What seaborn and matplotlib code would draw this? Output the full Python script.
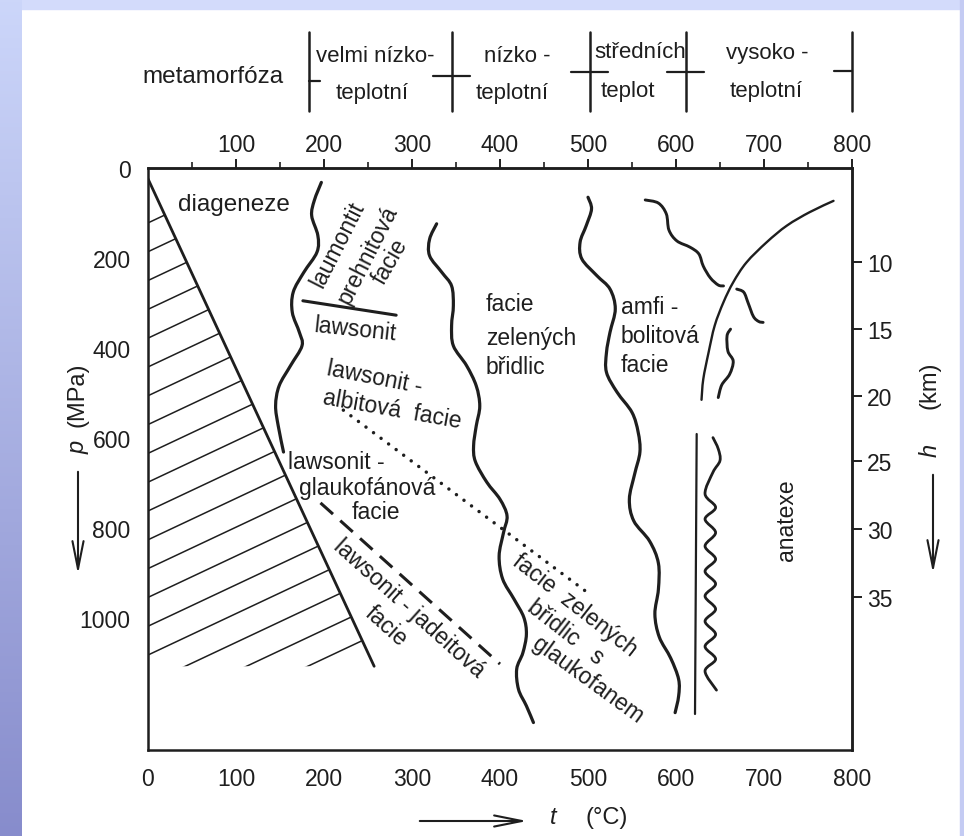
import numpy as np
import matplotlib
matplotlib.use("Agg")
import matplotlib.pyplot as plt
import seaborn as sns
from matplotlib.path import Path
from matplotlib.patches import PathPatch, Polygon, Rectangle, FancyArrowPatch
from matplotlib.lines import Line2D
from matplotlib.collections import LineCollection
from matplotlib.ticker import FixedLocator
from matplotlib.transforms import blended_transform_factory

# ---- values: t in degC, p in MPa ----
geotherm_t = [0, 257]
geotherm_p = [24, 1107]

hatch_p0 = [122, 186, 250, 314, 378, 442, 506, 570, 634, 698, 762, 826,
            890, 954, 1018, 1082, 1146, 1210, 1274]
hatch_slope = 0.92
hatch_floor = 1107

# diageneze / laumontit boundary
a_t = [197, 189, 186, 193, 192, 177, 165, 164, 172, 175, 162, 149, 145, 148, 154]
a_p = [32, 72, 106, 150, 187, 232, 276, 321, 365, 395, 439, 484, 528, 573, 631]

# greenschist lower boundary
b_t = [328, 320, 320, 334, 345, 347, 345, 347, 362, 373, 377, 373, 370, 372,
       385, 400, 408, 404, 399, 403, 416, 427, 430, 426, 419, 421, 430, 438]
b_p = [124, 158, 195, 232, 262, 306, 350, 395, 439, 484, 529, 573, 617, 652,
       698, 736, 773, 810, 862, 913, 958, 998, 1036, 1077, 1113, 1158, 1195, 1232]

# greenschist / amphibolite boundary
c_t = [500, 504, 498, 491, 493, 510, 525, 531, 525, 521, 521, 533, 550, 557,
       559, 553, 547, 552, 570, 580, 580, 576, 581, 594, 603, 603, 599]
c_p = [65, 91, 128, 165, 202, 239, 269, 313, 365, 410, 454, 498, 543, 587,
       631, 680, 736, 784, 829, 878, 936, 991, 1042, 1089, 1136, 1173, 1210]

d_t = [565, 580, 589, 592, 601, 616, 626, 631, 639, 648, 654]
d_p = [71, 78, 102, 138, 162, 176, 191, 218, 244, 260, 262]

e_t = [669, 677, 682, 688, 694, 699]
e_p = [269, 276, 300, 330, 341, 343]

f_t = [662, 658, 659, 665, 661, 652, 648]
f_p = [358, 373, 407, 429, 458, 482, 510]

# granite solidus
g_t = [779, 752, 726, 703, 680, 665, 654, 644, 637, 631, 629]
g_p = [73, 98, 128, 165, 210, 254, 298, 350, 410, 469, 515]

# straight line beside anatexe
h_t = [623.5, 621.6]
h_p = [591, 1213]

# wavy line beside anatexe
i_t = [642, 648, 650, 642, 633, 645, 633, 645, 633, 645, 633, 645, 633, 645,
       633, 645, 633, 645, 633, 646]
i_p = [599, 624, 650, 676, 724, 754, 780, 810, 840, 869, 896, 924, 951, 980,
       1007, 1036, 1063, 1091, 1118, 1160]

# laumontit / lawsonit separator
sep_t = [176, 282]
sep_p = [295, 327]

dot_t = [222, 502]
dot_p = [538, 947]

dash_t = [196, 400]
dash_p = [744, 1102]

t_major = [0, 100, 200, 300, 400, 500, 600, 700, 800]
t_minor = [50, 150, 250, 350, 450, 550, 650, 750]
p_major = [0, 200, 400, 600, 800, 1000]
p_minor = [100, 300, 500, 700, 900, 1100]
depth_km = [10, 15, 20, 25, 30, 35]
depth_p = [209, 358, 507, 651, 802, 953]

zone_bounds = [183, 345, 502, 611, 800]

INK = "#1e1e1e"
TEXT_FONT = ["Liberation Sans", "DejaVu Sans"]
NUM_FONT = ["Liberation Sans Narrow", "Liberation Sans", "DejaVu Sans"]

sns.set_style("white")
plt.rcParams["font.family"] = TEXT_FONT
plt.rcParams["text.color"] = INK

W, H = 964, 837
fig = plt.figure(figsize=(W / 100, H / 100), dpi=100)
fig.patch.set_facecolor("white")


def fx(x):
    return x / W


def fy(y):
    return 1 - y / H


ax = fig.add_axes([fx(148), fy(751), fx(852) - fx(148), fy(169) - fy(751)])
ax.set_xlim(0, 800)
ax.set_ylim(1293, 0)
ax.set_facecolor("white")


def smooth(t, p):
    pts = np.column_stack([t, p]).astype(float)
    ext = np.vstack([pts[0], pts, pts[-1]])
    verts, codes = [pts[0]], [Path.MOVETO]
    for i in range(1, len(ext) - 2):
        p0, p1, p2, p3 = ext[i - 1], ext[i], ext[i + 1], ext[i + 2]
        verts += [p1 + (p2 - p0) / 6, p2 - (p3 - p1) / 6, p2]
        codes += [Path.CURVE4] * 3
    return Path(verts, codes)


for t, p, lw in [(a_t, a_p, 2.3), (b_t, b_p, 2.3), (c_t, c_p, 2.3),
                 (d_t, d_p, 2.1), (e_t, e_p, 2.1), (f_t, f_p, 2.1),
                 (g_t, g_p, 1.7), (i_t, i_p, 2.0)]:
    ax.add_patch(PathPatch(smooth(t, p), fill=False, ec=INK, lw=lw,
                           capstyle="round", joinstyle="round"))

# geotherm and hatching
sns.lineplot(x=geotherm_t, y=geotherm_p, ax=ax, color=INK, lw=2.0,
             sort=False, estimator=None)
tri = Polygon([(0, geotherm_p[0]), (geotherm_t[1], geotherm_p[1]),
               (0, hatch_floor)], closed=True, transform=ax.transData,
              fc="none", ec="none")
ax.add_patch(tri)
segs = [[(0, p0), (320, p0 - hatch_slope * 320)] for p0 in hatch_p0]
lc = LineCollection(segs, colors=INK, linewidths=1.1)
ax.add_collection(lc)
lc.set_clip_path(tri)

sns.lineplot(x=h_t, y=h_p, ax=ax, color=INK, lw=1.6, sort=False, estimator=None)
sns.lineplot(x=sep_t, y=sep_p, ax=ax, color=INK, lw=2.2, sort=False, estimator=None)
ax.plot(dot_t, dot_p, color=INK, lw=2.5, ls=(0, (0.01, 2.7)),
        dash_capstyle="round")
ax.plot(dash_t, dash_p, color=INK, lw=2.2, ls=(0, (5.5, 3.2)))

# axes frame and ticks
for s in ax.spines.values():
    s.set_linewidth(1.8)
    s.set_color(INK)
    s.set_visible(True)

ax.xaxis.set_major_locator(FixedLocator(t_major))
ax.xaxis.set_minor_locator(FixedLocator(t_minor))
ax.yaxis.set_major_locator(FixedLocator(p_major))
ax.yaxis.set_minor_locator(FixedLocator(p_minor))
ax.tick_params(axis="x", which="major", direction="out", length=6.5, width=1.4,
               color=INK, pad=5.5, labelsize=16.5, labelcolor=INK,
               labelfontfamily=NUM_FONT)
ax.tick_params(axis="x", which="minor", direction="out", length=4, width=1.2, color=INK)
ax.tick_params(axis="y", which="major", direction="out", length=8.5, width=1.4,
               color=INK, pad=4, labelsize=16.5, labelcolor=INK,
               labelfontfamily=NUM_FONT)
ax.tick_params(axis="y", which="minor", direction="out", length=4, width=1.2, color=INK)
ax.set_xlabel("")
ax.set_ylabel("")

top = ax.secondary_xaxis("top")
top.xaxis.set_major_locator(FixedLocator(t_major[1:]))
top.xaxis.set_minor_locator(FixedLocator(t_minor))
top.tick_params(axis="x", which="major", direction="out", length=6.5, width=1.4,
                color=INK, pad=2, labelsize=16.5, labelcolor=INK,
                labelfontfamily=NUM_FONT)
top.tick_params(axis="x", which="minor", direction="out", length=4, width=1.2, color=INK)
top.spines["top"].set_linewidth(1.8)

right = ax.secondary_yaxis("right")
right.set_yticks(depth_p, labels=[str(d) for d in depth_km])
right.tick_params(axis="y", direction="out", length=7, width=1.4, color=INK,
                  pad=4, labelsize=16.5, labelcolor=INK, labelfontfamily=NUM_FONT)
right.spines["right"].set_linewidth(1.8)

# region labels
lab = dict(fontsize=16.5, ha="center", va="center", rotation_mode="anchor", color=INK)
ax.text(34, 80, "diageneze", **{**lab, "ha": "left", "fontsize": 17.5})
ax.text(216, 169, "laumontit", rotation=63, **lab)
ax.text(250, 191, "prehnitová", rotation=63, **lab)
ax.text(275, 207, "facie", rotation=60, **lab)
ax.text(236, 358, "lawsonit", rotation=-6, **lab)
ax.text(258, 464, "lawsonit -", rotation=-11, **lab)
ax.text(277, 536, "albitová  facie", rotation=-10, **lab)
ax.text(214, 651, "lawsonit -", **lab)
ax.text(249, 709, "glaukofánová", **lab)
ax.text(259, 764, "facie", **lab)
for txt, p in [("facie", 302), ("zelených", 376), ("břidlic", 440)]:
    ax.text(384, p, txt, **{**lab, "ha": "left"})
for txt, p in [("amfi -", 307), ("bolitová", 373), ("facie", 436)]:
    ax.text(537, p, txt, **{**lab, "ha": "left"})
ax.text(726, 780, "anatexe", rotation=90, **lab)
ax.text(297, 976, "lawsonit - jadeitová", rotation=-42, **lab)
ax.text(270, 1016, "facie", rotation=-42, **lab)
ax.text(485, 971, "facie  zelených", rotation=-38, **lab)
ax.text(474, 1031, "břidlic   s", rotation=-38, **lab)
ax.text(500, 1136, "glaukofanem", rotation=-36, **lab)

# header: metamorphic grade scale
hdr = blended_transform_factory(ax.transData, fig.transFigure)
stub_y = [82, 77, 73, 73, 72]
for k, (tb, sy) in enumerate(zip(zone_bounds, stub_y)):
    fig.add_artist(Line2D([tb, tb], [fy(33), fy(112)], transform=hdr,
                          color=INK, lw=1.8))
    lo = tb if k == 0 else tb - 21
    hi = tb if k == len(zone_bounds) - 1 else tb + 21
    if k == 0:
        hi = tb + 13
    fig.add_artist(Line2D([lo, hi], [fy(sy), fy(sy)], transform=hdr,
                          color=INK, lw=1.6))

hk = dict(fontsize=16, ha="center", va="center", color=INK)
fig.text(fx(213), fy(77), "metamorfóza", **{**hk, "fontsize": 17.5})
fig.text(fx(375), fy(57), "velmi nízko-", **hk)
fig.text(fx(372), fy(93), "teplotní", **hk)
fig.text(fx(517), fy(57), "nízko -", **hk)
fig.text(fx(512), fy(93), "teplotní", **hk)
fig.text(fx(640), fy(52), "středních", **hk)
fig.text(fx(628), fy(91), "teplot", **hk)
fig.text(fx(767), fy(54), "vysoko -", **hk)
fig.text(fx(766), fy(91), "teplotní", **hk)

# axis titles with arrows
fig.text(fx(553), fy(818), "t", fontsize=17, style="italic", ha="center", va="center")
fig.text(fx(607), fy(818), "(°C)", fontsize=17, ha="center", va="center")
fig.text(fx(78), fy(447), "p", fontsize=17, style="italic", ha="center",
         va="center", rotation=90)
fig.text(fx(78), fy(395), "(MPa)", fontsize=17, ha="center", va="center", rotation=90)
fig.text(fx(930), fy(450), "h", fontsize=17, style="italic", ha="center",
         va="center", rotation=90)
fig.text(fx(930), fy(385), "(km)", fontsize=17, ha="center", va="center", rotation=90)

for (x0, y0), (x1, y1) in [((417, 822), (530, 822)), ((78, 470), (78, 578)),
                           ((933, 473), (933, 577))]:
    fig.add_artist(FancyArrowPatch((fx(x0), fy(y0)), (fx(x1), fy(y1)),
                                   transform=fig.transFigure,
                                   arrowstyle="->,head_length=1.0,head_width=0.2",
                                   mutation_scale=20, color=INK, lw=1.5))

# slide frame bands
fig.add_artist(Rectangle((0, fy(10)), 1, 10 / H, transform=fig.transFigure,
                         color="#d3dbfb", zorder=0))
fig.add_artist(Rectangle((fx(960), 0), 4 / W, 1, transform=fig.transFigure,
                         color="#c4cbf3", zorder=0))
band = fig.add_axes([0, 0, fx(22), 1])
top_c = np.array([0.80, 0.84, 0.98])
bot_c = np.array([0.53, 0.55, 0.80])
grad = np.linspace(top_c, bot_c, 256)[:, None, :]
band.imshow(grad, aspect="auto", extent=[0, 1, 0, 1], origin="upper")
band.axis("off")

fig.savefig("out.png", dpi=100, facecolor="white")
